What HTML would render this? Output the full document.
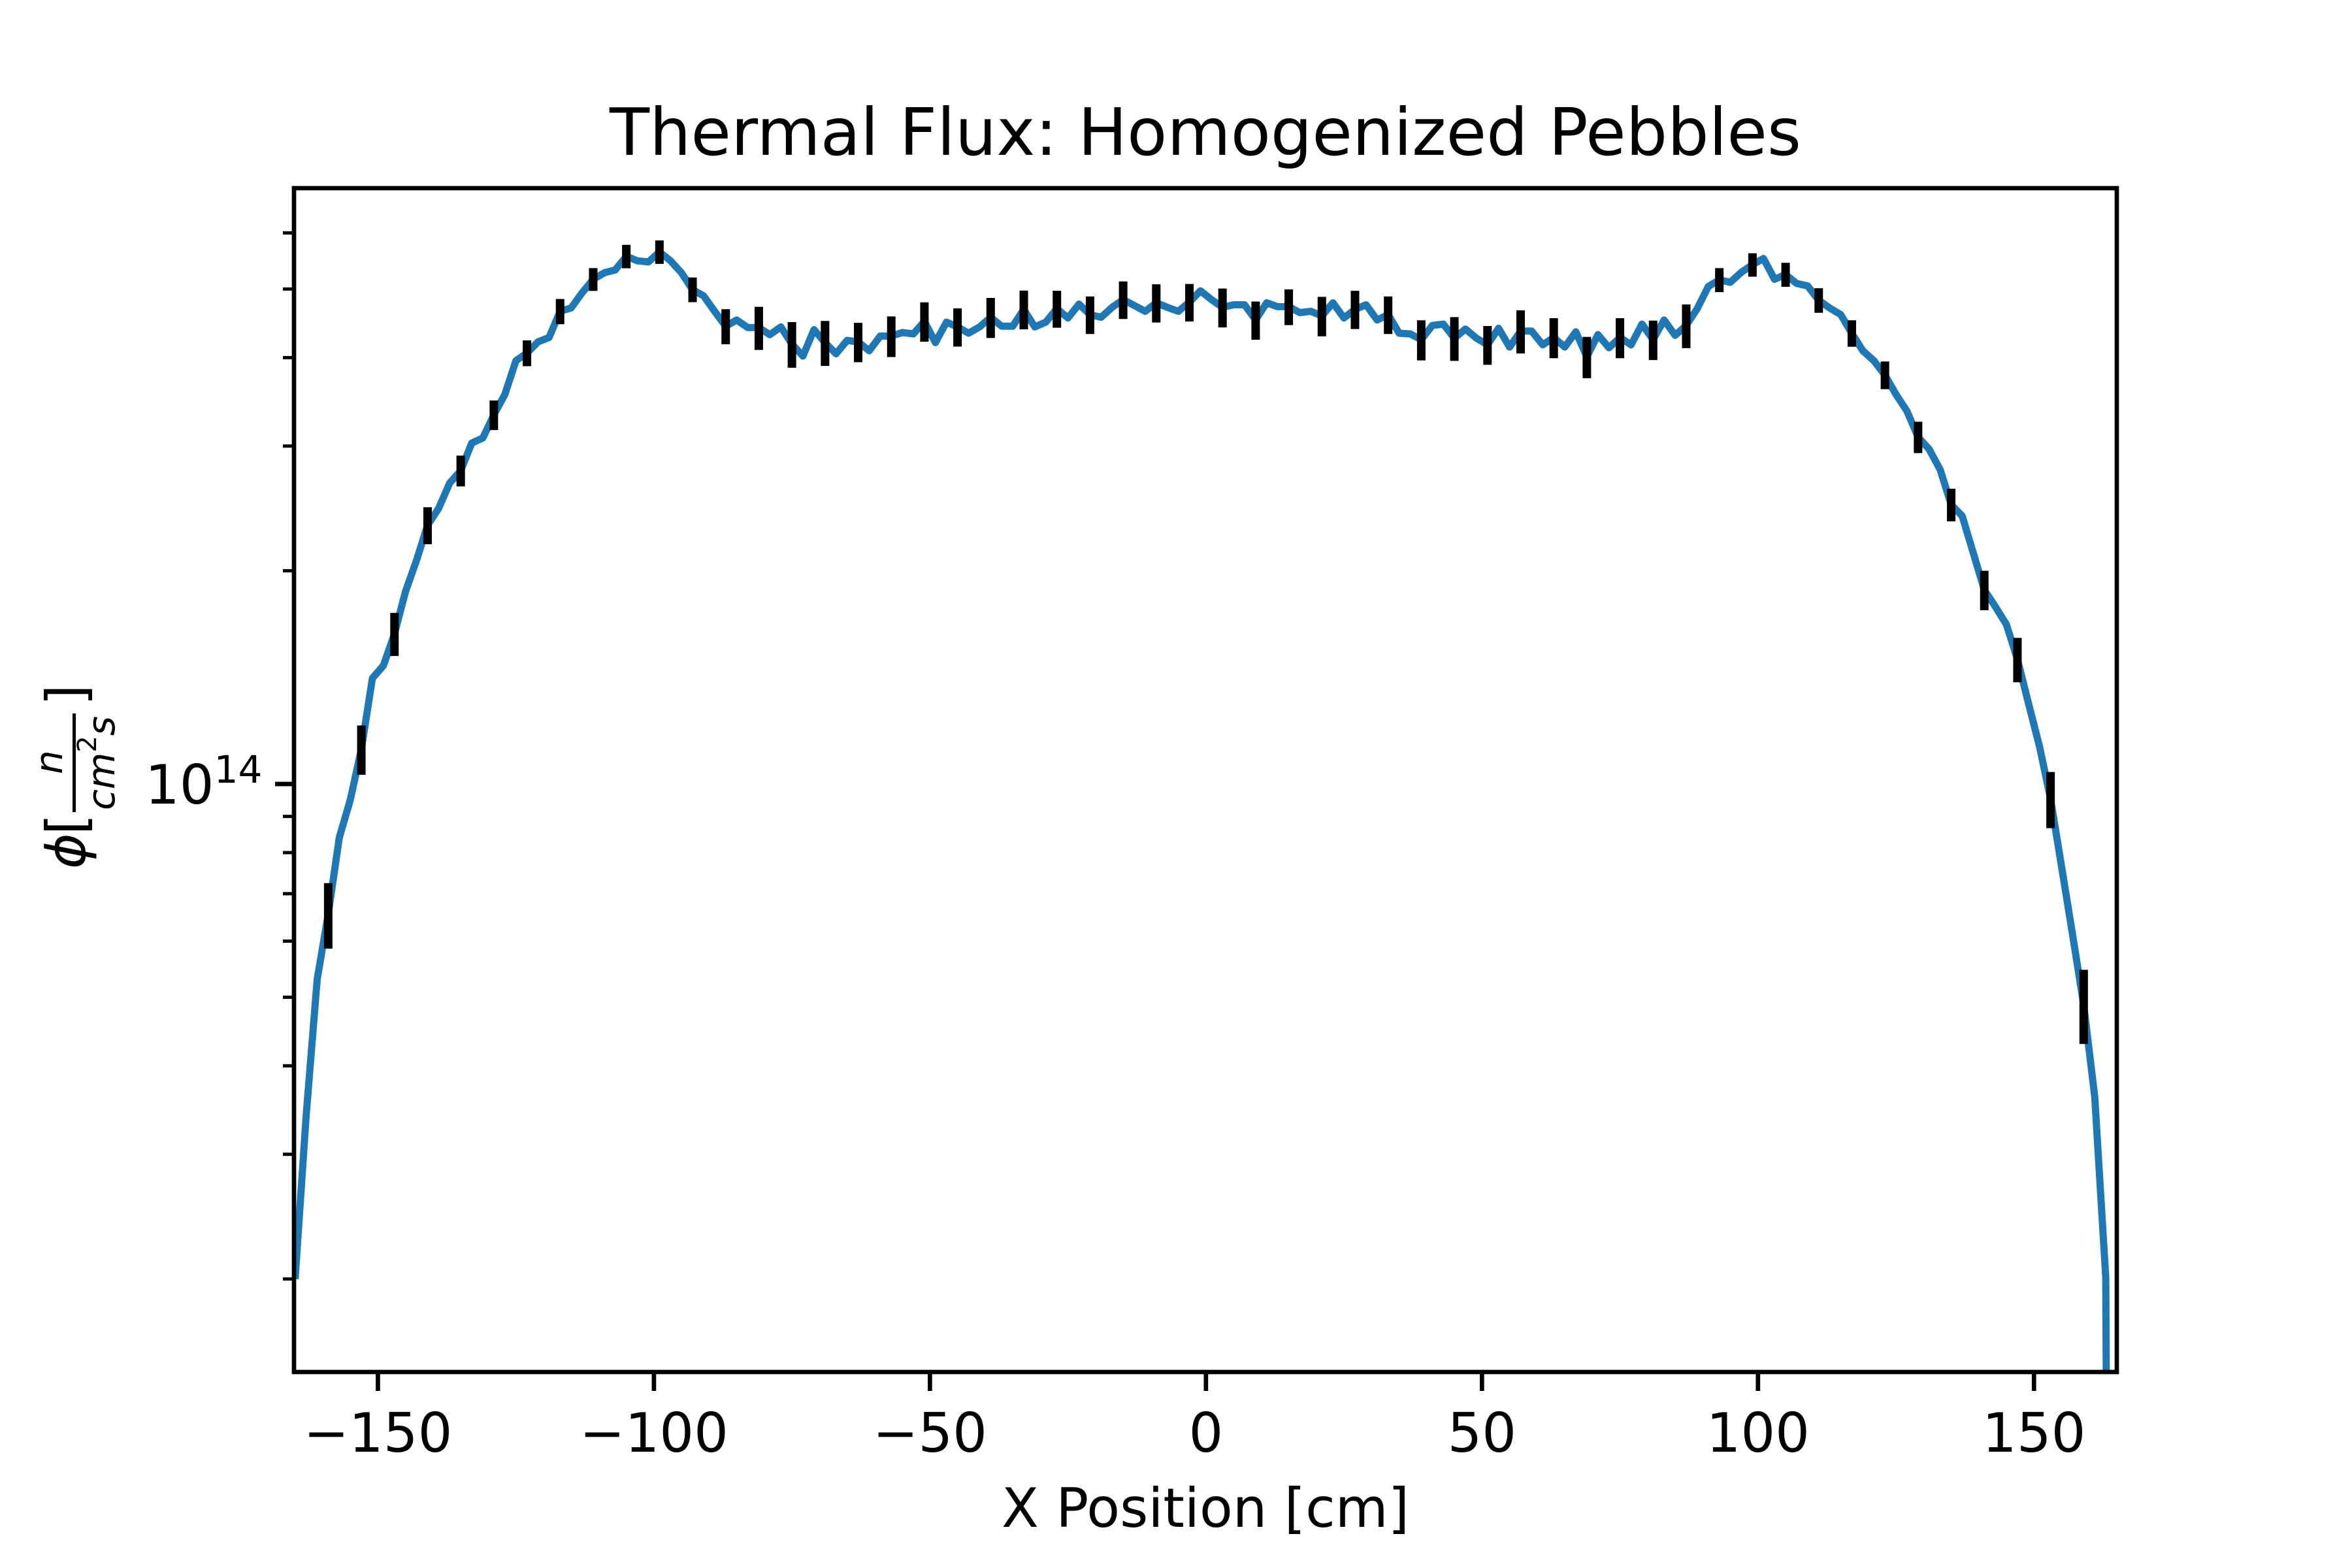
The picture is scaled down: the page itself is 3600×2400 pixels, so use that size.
<!DOCTYPE html>
<html><head><meta charset="utf-8"><title>Thermal Flux: Homogenized Pebbles</title>
<style>
html,body{margin:0;padding:0;background:#fff;width:3600px;height:2400px;overflow:hidden;}
svg{display:block;font-family:"DejaVu Sans","Liberation Sans",sans-serif;}
</style></head>
<body>
<svg id="chart" width="3600" height="2400" viewBox="0 0 3600 2400" xmlns="http://www.w3.org/2000/svg">
<rect x="0" y="0" width="3600" height="2400" fill="#fff"/>
<defs><clipPath id="plotclip"><rect x="450" y="288" width="2790" height="1812"/></clipPath></defs>
<text x="1845" y="237" font-size="100" text-anchor="middle">Thermal Flux: Homogenized Pebbles</text>
<g id="plot" clip-path="url(#plotclip)"></g>
<g id="axes"></g>
<text x="1845" y="2337" font-size="83" text-anchor="middle">X Position [cm]</text>
<g transform="rotate(-90)">
  <text x="-1330" y="130" font-size="83" font-style="italic">ϕ</text>
  <text x="-1278" y="130" font-size="83">[</text>
  <text x="-1185" y="95" font-size="58" font-style="italic">n</text>
  <rect x="-1243" y="111" width="151" height="5" fill="#000"/>
  <text x="-1240" y="175" font-size="58"><tspan font-style="italic">cm</tspan><tspan font-size="40" dy="-28">2</tspan><tspan font-style="italic" dy="28">s</tspan></text>
  <text x="-1080" y="130" font-size="83">]</text>
</g>
</svg>
<script>
// Line data: x positions [cm] and flux values (units of 1e14 n/cm^2/s)
const xPos = [-165,-163,-161,-159,-157,-155,-153,-151,-149,-147,-145,-143,-141,-139,-137,-135,-133,-131,-129,-127,-125,-123,-121,-119,-117,-115,-113,-111,-109,-107,-105,-103,-101,-99,-97,-95,-93,-91,-89,-87,-85,-83,-81,-79,-77,-75,-73,-71,-69,-67,-65,-63,-61,-59,-57,-55,-53,-51,-49,-47,-45,-43,-41,-39,-37,-35,-33,-31,-29,-27,-25,-23,-21,-19,-17,-15,-13,-11,-9,-7,-5,-3,-1,1,3,5,7,9,11,13,15,17,19,21,23,25,27,29,31,33,35,37,39,41,43,45,47,49,51,53,55,57,59,61,63,65,67,69,71,73,75,77,79,81,83,85,87,89,91,93,95,97,99,101,103,105,107,109,111,113,115,117,119,121,123,125,127,129,131,133,135,137,139,141,143,145,147,149,151,153,155,157,159,161,163,163.2];
const flux = [0.20,0.34,0.53,0.655,0.84,0.95,1.12,1.41,1.47,1.63,1.87,2.07,2.32,2.45,2.66,2.77,3.03,3.08,3.32,3.55,3.96,4.06,4.21,4.27,4.65,4.70,4.94,5.16,5.27,5.32,5.56,5.48,5.46,5.64,5.48,5.27,4.99,4.89,4.65,4.43,4.52,4.41,4.41,4.31,4.42,4.18,4.02,4.38,4.20,4.05,4.23,4.21,4.09,4.29,4.29,4.34,4.32,4.50,4.20,4.49,4.42,4.33,4.42,4.56,4.43,4.43,4.68,4.42,4.49,4.69,4.55,4.76,4.60,4.56,4.71,4.83,4.74,4.65,4.78,4.71,4.65,4.79,4.97,4.83,4.71,4.75,4.75,4.52,4.78,4.72,4.72,4.63,4.65,4.58,4.78,4.55,4.68,4.75,4.52,4.60,4.33,4.32,4.24,4.44,4.46,4.26,4.39,4.26,4.17,4.40,4.14,4.36,4.36,4.17,4.27,4.14,4.35,4.01,4.31,4.13,4.27,4.17,4.46,4.24,4.52,4.30,4.44,4.69,5.04,5.15,5.11,5.28,5.41,5.52,5.16,5.24,5.09,5.05,4.82,4.70,4.60,4.33,4.09,3.96,3.78,3.55,3.36,3.09,2.97,2.78,2.48,2.39,2.12,1.88,1.78,1.68,1.50,1.30,1.13,0.953,0.764,0.612,0.488,0.362,0.201,0.1];
// Error bars: positions [cm] and relative errors [%]
const errX = [-159,-153,-147,-141,-135,-129,-123,-117,-111,-105,-99,-93,-87,-81,-75,-69,-63,-57,-51,-45,-39,-33,-27,-21,-15,-9,-3,3,9,15,21,27,33,39,45,51,57,63,69,75,81,87,93,99,105,111,117,123,129,135,141,147,153,159];
const errPct = [10.6,8,7,6,5,4.8,4.2,4.1,3.7,3.8,3.8,4,5.7,7,7.4,7.3,6.4,6.6,6.4,6.2,6.5,6.3,6,6.1,6.1,6.2,6.1,6.3,6.2,5.8,6.4,6.2,6.1,6.5,7.1,6.3,7,6.5,6.7,6.5,6.4,7.1,3.9,3.8,3.9,4,4.3,4.5,5.1,5.3,6.4,7.2,9.1,12];
// Ticks
const xTicks = [-150,-100,-50,0,50,100,150];
const xTickLabels = ["\u2212150","\u2212100","\u221250","0","50","100","150"];
const yMinorTicks = [0.2,0.3,0.4,0.5,0.6,0.7,0.8,0.9,2,3,4,5,6];

const NS = "http://www.w3.org/2000/svg";
const L = 450, R = 3240, T = 288, B = 2100;
const xMin = -165.2, xMax = 165.0;
function X(x){ return L + (x - xMin) / (xMax - xMin) * (R - L); }
function Y(v){ return 1200 - Math.log10(v) * 1084; }
function mk(tag, attrs, parent){ const e = document.createElementNS(NS, tag); for (const k in attrs) e.setAttribute(k, attrs[k]); parent.appendChild(e); return e; }

const plot = document.getElementById('plot');
const axes = document.getElementById('axes');

let d = '';
for (let i = 0; i < xPos.length; i++) d += (i ? 'L' : 'M') + X(xPos[i]).toFixed(1) + ' ' + Y(flux[i]).toFixed(1);
const line = mk('path', {d: d, fill: 'none', stroke: '#1f77b4', 'stroke-width': 11, 'stroke-linejoin': 'round'}, plot);



for (let j = 0; j < errX.length; j++) {
  const idx = xPos.indexOf(errX[j]);
  const v = flux[idx];
  const e = v * errPct[j] / 100;
  const r = mk('line', {x1: X(errX[j]), x2: X(errX[j]), y1: Y(v + e), y2: Y(v - e), stroke: '#000', 'stroke-width': 13}, plot);
  
  
}

const frame = mk('rect', {x: L, y: T, width: R - L, height: B - T, fill: 'none', stroke: '#000', 'stroke-width': 6.7}, axes);



for (let i = 0; i < xTicks.length; i++) {
  const x = X(xTicks[i]);
  const t = mk('line', {x1: x, x2: x, y1: B, y2: B + 29, stroke: '#000', 'stroke-width': 6.7}, axes);
  
  
  const lb = mk('text', {x: x, y: 2222, 'font-size': 83, 'text-anchor': 'middle'}, axes);
  lb.textContent = xTickLabels[i];
  
  
}

const mt = mk('line', {x1: L - 29, x2: L, y1: Y(1), y2: Y(1), stroke: '#000', 'stroke-width': 6.7}, axes);


const yl = mk('text', {x: 222, y: 1230, 'font-size': 83}, axes);


yl.innerHTML = '10<tspan font-size="58" dy="-32">14</tspan>';

for (const v of yMinorTicks) {
  const y = Y(v);
  const t = mk('line', {x1: L - 17, x2: L, y1: y, y2: y, stroke: '#000', 'stroke-width': 5}, axes);
  
  
}
</script>
</body></html>
